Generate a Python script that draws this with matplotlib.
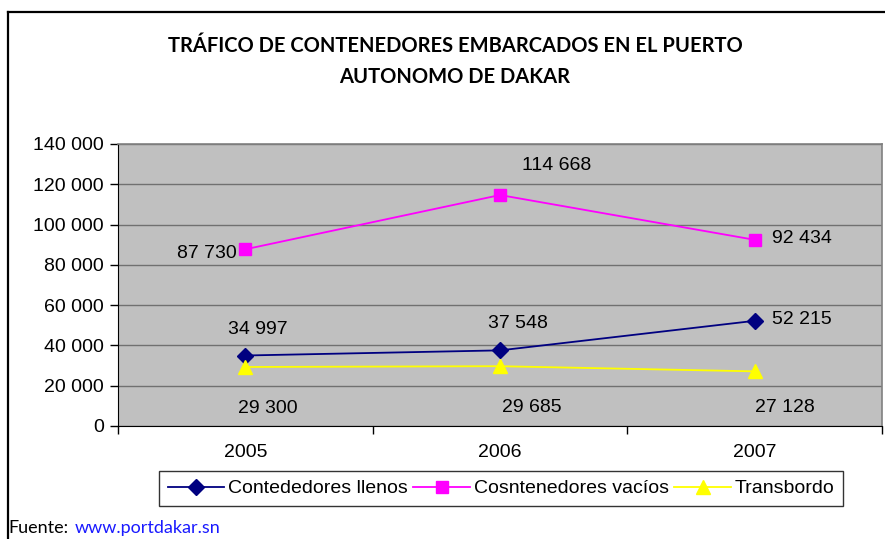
import matplotlib
matplotlib.use("Agg")
import matplotlib.pyplot as plt
from matplotlib.lines import Line2D
from matplotlib.ticker import FuncFormatter, FixedLocator

years = ["2005", "2006", "2007"]
llenos = [34997, 37548, 52215]
vacios = [87730, 114668, 92434]
transbordo = [29300, 29685, 27128]
series_names = ["Contededores llenos", "Cosntenedores vacíos", "Transbordo"]
title_lines = ["TRÁFICO DE CONTENEDORES EMBARCADOS EN EL PUERTO", "AUTONOMO DE DAKAR"]

W, H = 885, 539
fig = plt.figure(figsize=(W / 100, H / 100), dpi=100)
plt.rcParams['font.family'] = ['Liberation Sans', 'DejaVu Sans']
FS = 14

# figure border (top and left)
fig.add_artist(Line2D([8 / W, 8 / W], [0, 1 - 12 / H], transform=fig.transFigure, color='black', lw=1.6))
fig.add_artist(Line2D([8 / W, 1], [1 - 12 / H, 1 - 12 / H], transform=fig.transFigure, color='black', lw=1.6))

ax = fig.add_axes([118 / W, (H - 426) / H, 764 / W, 282 / H])
ax.set_facecolor('#C0C0C0')
ax.set_xlim(-0.5, 2.5)
ax.set_ylim(0, 140000)
ax.yaxis.set_major_locator(FixedLocator(range(0, 140001, 20000)))
ax.yaxis.set_major_formatter(FuncFormatter(lambda v, p: f"{int(v):,}".replace(",", " ")))
ax.grid(axis='y', color='#707070', lw=1.0)
ax.set_axisbelow(True)

x = list(range(len(years)))
ax.set_xticks(x)
ax.set_xticklabels(years)
ax.set_xticks([-0.5, 0.5, 1.5, 2.5], minor=True)
ax.tick_params(axis='x', which='major', length=0, pad=13, labelsize=FS)
ax.tick_params(axis='x', which='minor', length=6, width=1, color='black')
ax.tick_params(axis='y', length=6, width=1, labelsize=FS, pad=4, color='black')

for s in ['top', 'right']:
    ax.spines[s].set_color('#808080')
    ax.spines[s].set_linewidth(1.2)
ax.spines['left'].set_color('black')
ax.spines['bottom'].set_color('black')

l1, = ax.plot(x, llenos, color='#000080', marker='D', ms=8.5, lw=1.3, label=series_names[0])
l2, = ax.plot(x, vacios, color='#FF00FF', marker='s', ms=8, lw=1.3, label=series_names[1])
l3, = ax.plot(x, transbordo, color='#FFFF00', marker='^', ms=10.5, lw=1.3, label=series_names[2])

def fmt(v):
    return f"{v:,}".replace(",", " ")

# label offsets in pixels (dx, dy, ha)
off_llenos = [(12, 26, 'center'), (18, 27, 'center'), (17, 1, 'left')]
off_vacios = [(-9, -4, 'right'), (22, 30, 'left'), (17, 1, 'left')]
off_trans = [(22, -42, 'center'), (32, -41, 'center'), (30, -36, 'center')]
for vals, offs in [(llenos, off_llenos), (vacios, off_vacios), (transbordo, off_trans)]:
    for xi, v, (dx, dy, ha) in zip(x, vals, offs):
        ax.annotate(fmt(v), (xi, v), xytext=(dx, dy), textcoords='offset pixels',
                    ha=ha, va='center', fontsize=FS, color='black')

leg = fig.legend(handles=[l1, l2, l3], loc='center', bbox_to_anchor=(501 / W, 1 - 488.5 / H),
                 ncol=3, fontsize=FS, frameon=True, fancybox=False, edgecolor='black',
                 handlelength=2.9, handletextpad=0.2, columnspacing=0.3, borderpad=0.45,
                 borderaxespad=0)
leg.get_frame().set_linewidth(1.0)

for i, t in enumerate(title_lines):
    fig.text(455 / W, 1 - (46 + 31 * i) / H, t, ha='center', va='center',
             fontsize=14.5, fontweight='bold', family=['Lato', 'DejaVu Sans'])

fig.text(8 / W, 1 - 528 / H, "Fuente:", ha='left', va='center', fontsize=13,
         family=['Lato', 'DejaVu Sans'], color='black')
fig.text(75 / W, 1 - 528 / H, "www.portdakar.sn", ha='left', va='center', fontsize=13,
         family=['Lato', 'DejaVu Sans'], color='#1A1AFF')

fig.savefig('out.png', dpi=100)
